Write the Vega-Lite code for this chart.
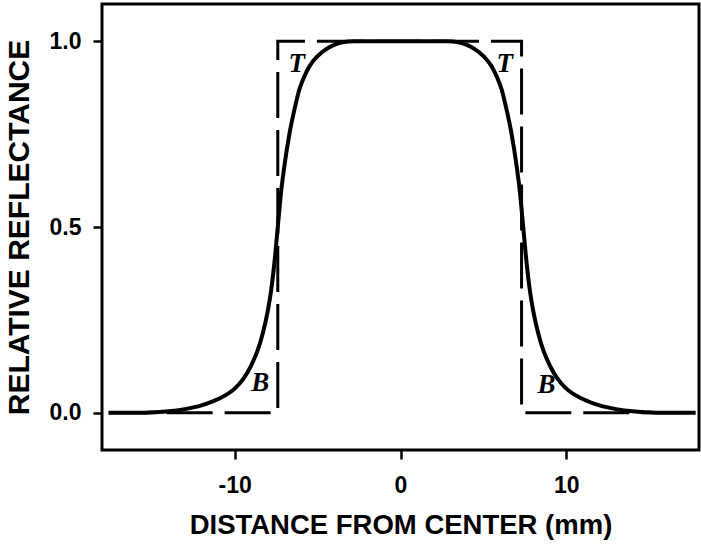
{
  "$schema": "https://vega.github.io/schema/vega-lite/v6.json",
  "autosize": "none",
  "width": 597,
  "height": 446,
  "padding": {"left": 102, "top": 4, "right": 2, "bottom": 98},
  "background": "white",
  "config": {
    "view": {"stroke": "black", "strokeWidth": 3},
    "axis": {
      "domain": false,
      "grid": false,
      "tickColor": "black",
      "tickWidth": 2.5,
      "tickSize": 9,
      "labelFont": "Liberation Sans",
      "labelFontWeight": "bold",
      "labelFontSize": 23,
      "labelColor": "black",
      "titleFont": "Liberation Sans",
      "titleFontWeight": "bold",
      "titleColor": "black"
    }
  },
  "datasets": {
    "curve": [
      {"x": -17.6, "r": 0}, {"x": -16, "r": 0}, {"x": -15, "r": 0.0015}, {"x": -14, "r": 0.004},
      {"x": -13, "r": 0.01}, {"x": -12, "r": 0.02}, {"x": -11, "r": 0.037}, {"x": -10, "r": 0.065},
      {"x": -9.5, "r": 0.09}, {"x": -9, "r": 0.128}, {"x": -8.6, "r": 0.17}, {"x": -8.3, "r": 0.215},
      {"x": -8, "r": 0.275}, {"x": -7.8, "r": 0.33}, {"x": -7.6, "r": 0.405}, {"x": -7.4, "r": 0.5},
      {"x": -7.2, "r": 0.595}, {"x": -7.0, "r": 0.665}, {"x": -6.7, "r": 0.75}, {"x": -6.4, "r": 0.815},
      {"x": -6.1, "r": 0.87}, {"x": -5.8, "r": 0.905}, {"x": -5.5, "r": 0.932}, {"x": -5.0, "r": 0.96},
      {"x": -4.5, "r": 0.978}, {"x": -4.0, "r": 0.99}, {"x": -3.5, "r": 0.997}, {"x": -2.8, "r": 1.0},
      {"x": 0, "r": 1.0},
      {"x": 2.8, "r": 1.0}, {"x": 3.5, "r": 0.997}, {"x": 4.0, "r": 0.99}, {"x": 4.5, "r": 0.978},
      {"x": 5.0, "r": 0.96}, {"x": 5.5, "r": 0.932}, {"x": 5.8, "r": 0.905}, {"x": 6.1, "r": 0.87},
      {"x": 6.4, "r": 0.815}, {"x": 6.7, "r": 0.75}, {"x": 7.0, "r": 0.665}, {"x": 7.2, "r": 0.595},
      {"x": 7.4, "r": 0.5}, {"x": 7.6, "r": 0.405}, {"x": 7.8, "r": 0.33}, {"x": 8, "r": 0.275},
      {"x": 8.3, "r": 0.215}, {"x": 8.6, "r": 0.17}, {"x": 9, "r": 0.128}, {"x": 9.5, "r": 0.09},
      {"x": 10, "r": 0.065}, {"x": 11, "r": 0.037}, {"x": 12, "r": 0.02}, {"x": 13, "r": 0.01},
      {"x": 14, "r": 0.004}, {"x": 15, "r": 0.0015}, {"x": 16, "r": 0}, {"x": 17.8, "r": 0}
    ],
    "ideal": [
      {"i": 1, "x": -17.6, "r": 0}, {"i": 2, "x": -7.4, "r": 0}, {"i": 3, "x": -7.4, "r": 1},
      {"i": 4, "x": 7.3, "r": 1}, {"i": 5, "x": 7.3, "r": 0}, {"i": 6, "x": 17.55, "r": 0}
    ],
    "labels": [
      {"x": -6.26, "r": 0.938, "t": "T"}, {"x": 6.29, "r": 0.938, "t": "T"},
      {"x": -8.45, "r": 0.08, "t": "B"}, {"x": 8.8, "r": 0.075, "t": "B"}
    ]
  },
  "layer": [
    {
      "data": {"name": "ideal"},
      "mark": {"type": "line", "color": "black", "strokeWidth": 3, "strokeDash": [46, 12], "clip": true},
      "encoding": {
        "x": {"field": "x", "type": "quantitative", "scale": {"domain": [-18, 18], "nice": false, "zero": false},
              "axis": {"values": [-10, 0, 10], "labelExpr": "datum.value < 0 ? '-' + abs(datum.value) : '' + datum.value", "title": "DISTANCE FROM CENTER (mm)", "titleFontSize": 27.5, "labelPadding": 15, "titlePadding": 14}},
        "y": {"field": "r", "type": "quantitative", "scale": {"domain": [-0.1, 1.1], "nice": false, "zero": false},
              "axis": {"values": [0, 0.5, 1], "format": ".1f", "title": "RELATIVE REFLECTANCE", "titleFontSize": 30, "labelPadding": 12, "titlePadding": 15}},
        "order": {"field": "i", "type": "quantitative"}
      }
    },
    {
      "data": {"name": "curve"},
      "mark": {"type": "line", "color": "black", "strokeWidth": 4, "interpolate": "monotone", "clip": true},
      "encoding": {
        "x": {"field": "x", "type": "quantitative"},
        "y": {"field": "r", "type": "quantitative"}
      }
    },
    {
      "data": {"name": "labels"},
      "mark": {"type": "text", "font": "Liberation Serif", "fontStyle": "italic", "fontWeight": "bold", "fontSize": 27, "color": "black", "align": "center", "baseline": "middle"},
      "encoding": {
        "x": {"field": "x", "type": "quantitative"},
        "y": {"field": "r", "type": "quantitative"},
        "text": {"field": "t"}
      }
    }
  ]
}
